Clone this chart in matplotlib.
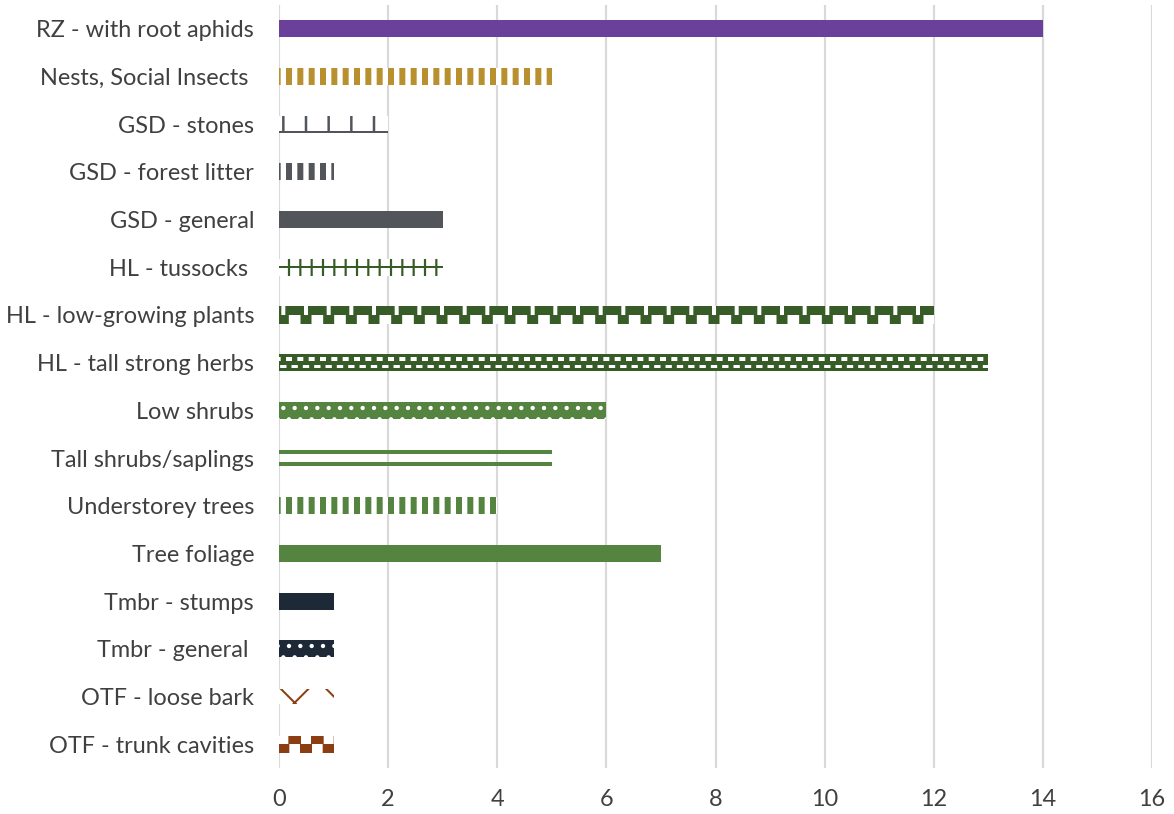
import numpy as np
import matplotlib
matplotlib.use("Agg")
import matplotlib.pyplot as plt

# microhabitat categories, top to bottom
categories = ["RZ - with root aphids", "Nests, Social Insects ", "GSD - stones",
              "GSD - forest litter", "GSD - general", "HL - tussocks ",
              "HL - low-growing plants", "HL - tall strong herbs", "Low shrubs",
              "Tall shrubs/saplings", "Understorey trees", "Tree foliage",
              "Tmbr - stumps", "Tmbr - general ", "OTF - loose bark",
              "OTF - trunk cavities"]
counts = [14, 5, 2, 1, 3, 3, 12, 13, 6, 5, 4, 7, 1, 1, 1, 1]

purple = "#6B409A"
gold = "#B8902F"
grey = "#52565B"
dkgreen = "#375C27"
green = "#548440"
navy = "#1D2937"
brown = "#8B3E12"

# dpi picked so the hatch spacing matches the excel pattern fills
DPI = 136
px = 72 / DPI  # one pixel in points


def solid(c):
    return [(0, 1, c, c, None, 0)]


# pattern fills as stacked layers:
# (offset in bar heights, height fraction, face, hatch colour, hatch, hatch lw px)
styles = [
    solid(purple),
    [(0, 1, "white", gold, "||", 6)],
    [(0, 1, "white", grey, "|", 2.5), (0.44, 0.12, grey, grey, None, 0)],
    [(0, 1, "white", grey, "||", 6)],
    solid(grey),
    [(0, 1, "white", dkgreen, "||", 2.2), (0, 0.14, dkgreen, dkgreen, None, 0)],
    [(-0.25, 0.5, dkgreen, "white", "|", 4), (0.25, 0.5, "white", dkgreen, "|", 11)],
    [(0, 1, dkgreen, dkgreen, None, 0),
     (-0.22, 0.2, dkgreen, "white", "||", 6), (0.22, 0.2, "white", dkgreen, "||", 5)],
    [(0, 1, green, "white", "..", 2)],
    [(-0.33, 0.24, green, green, None, 0), (0.33, 0.24, green, green, None, 0)],
    [(0, 1, "white", green, "||", 6)],
    solid(green),
    solid(navy),
    [(0, 1, navy, "white", "..", 2)],
    [(0, 0.9, "white", brown, "x", 2)],
    [(-0.25, 0.5, brown, "white", "|", 10), (0.25, 0.5, "white", brown, "|", 12)],
]

plt.rcParams['font.family'] = ['Lato', 'DejaVu Sans']

fig = plt.figure(figsize=(1174 / DPI, 814 / DPI), dpi=DPI)
ax = fig.add_axes([0.2377, 0.0565, 0.9813 - 0.2377, 0.9939 - 0.0565])

ypos = np.arange(len(categories))
h = 0.36
for y, v, layers in zip(ypos, counts, styles):
    for off, frac, fc, hc, hatch, hlw in layers:
        with plt.rc_context({'hatch.linewidth': max(hlw, 1) * px}):
            b = ax.barh(y + off * h, v, height=frac * h, color=fc, edgecolor=hc,
                        linewidth=0, hatch=hatch, zorder=3)
        for p in b.patches:
            if hasattr(p, "set_hatch_linewidth"):
                p.set_hatch_linewidth(max(hlw, 1) * px)

ax.set_xlim(0, 16)
ax.set_ylim(len(categories) - 0.5, -0.5)
ax.set_xticks(np.arange(0, 17, 2))
ax.set_yticks(ypos)
ax.set_yticklabels(categories)
ax.tick_params(axis='both', length=0, labelsize=23.5 * px, colors="#404040")
ax.tick_params(axis='y', pad=25 * px)
ax.tick_params(axis='x', pad=21 * px)
ax.grid(axis='x', color="#D9D9D9", lw=2.2 * px, zorder=0)
for s in ax.spines.values():
    s.set_visible(False)

fig.savefig("out.png", dpi=DPI)
